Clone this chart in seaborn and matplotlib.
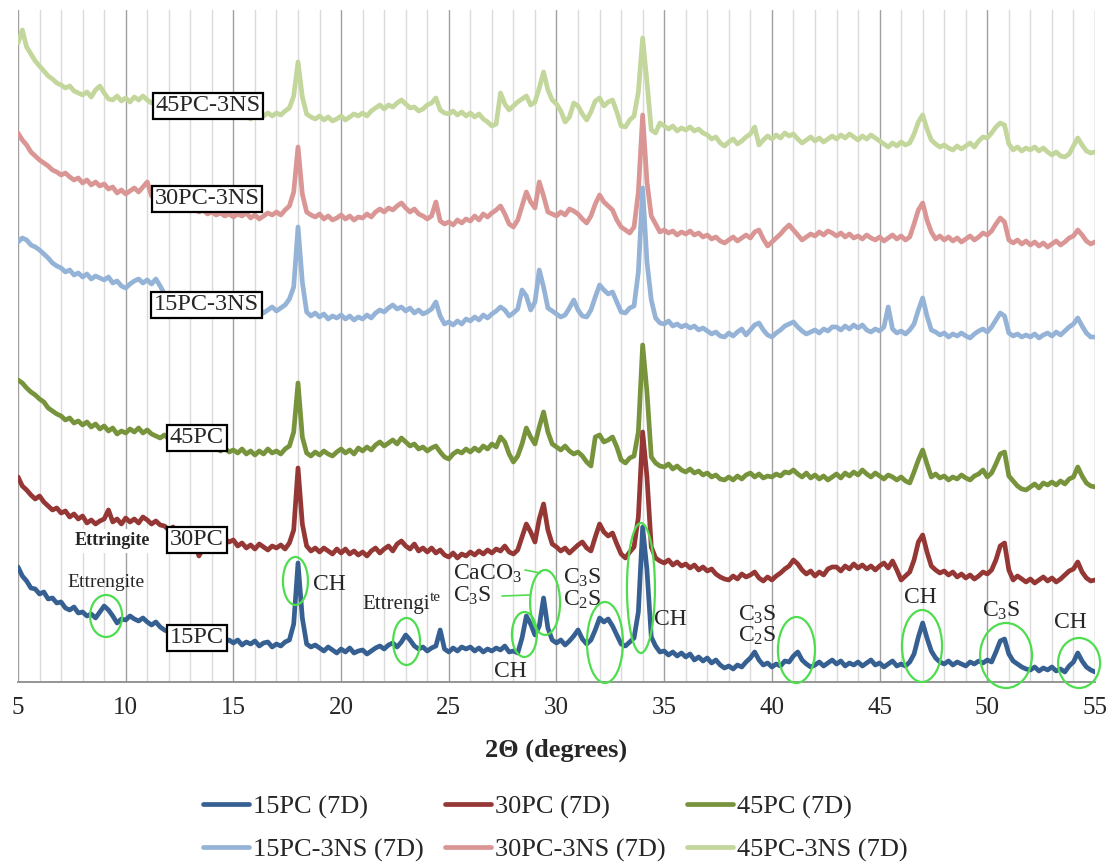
import numpy as np
import pandas as pd
import matplotlib
matplotlib.use("Agg")
import matplotlib.pyplot as plt
from matplotlib.patches import Ellipse
from matplotlib.ticker import MultipleLocator
import seaborn as sns

# 2-theta scan, 0.2 degree step from 5 to 55 degrees
two_theta = np.round(np.linspace(5, 55, 251), 1)

# Intensities (offset, arbitrary units), one row per degree (x.0, x.2, x.4, x.6, x.8)
pc15 = [
    115, 106, 101, 94, 93,   88, 90, 83, 84, 79,   80, 74, 72, 75, 69,   70, 66, 68, 64, 70,
    76, 72, 66, 59, 63,   62, 66, 63, 61, 64,   60, 57, 60, 55, 52,   50, 48, 51, 46, 48,
    45, 47, 44, 46, 42,   44, 41, 43, 40, 42,   39, 42, 37, 40, 38,   41, 36, 39, 40, 35,
    38, 36, 40, 42, 58,   119, 64, 38, 35, 37,   34, 31, 35, 32, 29,   33, 30, 34, 29, 31,
    32, 28, 31, 34, 36,   33, 37, 39, 35, 40,   47, 42, 36, 33, 35,   31, 34, 36, 52, 33,
    30, 34, 31, 35, 33,   35, 31, 34, 30, 33,   31, 34, 32, 36, 30,   31, 29, 44, 66, 58,
    47, 56, 84, 54, 42,   39, 42, 37, 41, 46,   52, 43, 38, 42, 52,   64, 60, 63, 56, 47,
    38, 36, 40, 44, 70,   155, 112, 45, 36, 30,   31, 27, 30, 26, 29,   25, 28, 22, 25, 21,
    24, 19, 22, 17, 14,   16, 13, 17, 15, 20,   24, 30, 22, 17, 19,   15, 18, 16, 21, 20,
    26, 30, 22, 18, 15,   17, 20, 16, 19, 22,   18, 21, 16, 19, 17,   20, 16, 19, 22, 17,
    19, 15, 18, 21, 16,   18, 16, 20, 28, 45,   59, 44, 31, 24, 20,   18, 21, 17, 20, 18,
    16, 20, 18, 21, 19,   22, 20, 30, 41, 43,   28, 21, 18, 15, 13,   12, 15, 11, 14, 12,
    15, 11, 13, 10, 16,   20, 29, 21, 15, 12,   10,
]
pc30 = [
    205, 196, 192, 187, 183,   186, 180, 176, 172, 174,   169, 171, 165, 168, 163,   166, 159, 162, 158, 161,
    163, 172, 160, 163, 158,   164, 160, 163, 159, 165,   162, 158, 161, 157, 156,   152, 155, 149, 151, 146,
    143, 139, 126, 134, 140,   137, 141, 138, 143, 140,   142, 136, 139, 134, 137,   133, 138, 135, 132, 136,
    134, 137, 133, 139, 152,   214, 158, 136, 131, 134,   130, 134, 131, 128, 133,   129, 133, 128, 131, 127,
    130, 126, 131, 134, 129,   133, 136, 131, 138, 141,   136, 133, 138, 131, 134,   130, 134, 129, 132, 127,
    125, 129, 124, 128, 126,   130, 127, 131, 128, 132,   129, 133, 131, 136, 130,   128, 132, 145, 158, 150,
    140, 163, 178, 152, 138,   135, 131, 134, 129, 133,   137, 140, 134, 131, 145,   158, 150, 146, 149, 138,
    128, 124, 130, 135, 165,   250, 205, 135, 124, 121,   119, 122, 117, 120, 116,   118, 114, 117, 112, 115,
    111, 113, 108, 105, 103,   102, 106, 103, 108, 105,   107, 110, 104, 101, 105,   102, 106, 109, 113, 116,
    122, 118, 112, 108, 111,   106, 110, 107, 113, 115,   115, 111, 116, 113, 118,   114, 117, 113, 116, 112,
    116, 119, 114, 121, 112,   102, 106, 110, 122, 140,   147, 130, 116, 112, 109,   111, 107, 110, 105, 108,
    104, 107, 103, 106, 110,   108, 112, 122, 136, 139,   112, 102, 106, 103, 100,   103, 99, 102, 105, 101,
    104, 100, 103, 107, 111,   113, 120, 110, 104, 101,   102,
]
pc45 = [
    302, 299, 294, 290, 287,   283, 280, 274, 271, 268,   266, 262, 264, 259, 261,   257, 260, 255, 258, 253,
    256, 251, 254, 248, 251,   249, 253, 250, 254, 249,   252, 248, 246, 244, 247,   243, 245, 240, 242, 238,
    240, 236, 238, 234, 236,   233, 236, 231, 234, 230,   232, 229, 233, 228, 231,   227, 231, 228, 233, 229,
    231, 228, 233, 236, 250,   299, 245, 229, 226, 230,   227, 231, 228, 226, 230,   233, 229, 232, 228, 234,
    231, 235, 232, 237, 240,   236, 239, 242, 238, 244,   240, 236, 238, 233, 235,   231, 234, 236, 230, 225,
    223, 228, 231, 229, 233,   230, 234, 231, 236, 233,   238, 235, 245, 240, 228,   220, 226, 238, 254, 245,
    238, 255, 270, 250, 238,   235, 232, 236, 231, 228,   230, 226, 220, 216, 245,   247, 240, 242, 245, 235,
    222, 219, 224, 226, 250,   337, 290, 225, 219, 216,   215, 218, 213, 216, 212,   210, 213, 209, 211, 207,
    209, 205, 207, 203, 202,   205, 202, 206, 203, 207,   209, 205, 208, 204, 206,   205, 208, 206, 210, 209,
    212, 208, 205, 209, 204,   207, 203, 206, 202, 205,   208, 204, 209, 206, 210,   207, 212, 208, 205, 209,
    206, 203, 207, 205, 202,   205, 201, 199, 210, 222,   232, 218, 205, 208, 204,   206, 202, 205, 203, 207,
    204, 202, 206, 208, 212,   205, 209, 218, 228, 230,   206, 201, 196, 193, 192,   195, 198, 194, 199, 197,
    200, 197, 201, 198, 203,   205, 215, 206, 199, 196,   195,
]
pc15_ns3 = [
    440, 444, 442, 437, 435,   432, 428, 424, 419, 416,   414, 410, 412, 407, 409,   405, 408, 403, 406, 404,
    402, 405, 399, 401, 396,   394, 398, 401, 403, 399,   402, 398, 403, 396, 388,   385, 387, 383, 384, 380,
    381, 378, 380, 376, 378,   375, 377, 374, 376, 373,   375, 372, 374, 371, 373,   370, 373, 369, 372, 375,
    371, 374, 377, 383, 395,   455, 400, 370, 366, 369,   365, 368, 363, 366, 364,   367, 363, 366, 362, 365,
    363, 367, 364, 369, 372,   370, 374, 377, 373, 375,   371, 374, 369, 372, 368,   370, 373, 380, 366, 358,
    360, 357, 361, 358, 363,   361, 365, 362, 367, 364,   368, 371, 375, 372, 366,   369, 373, 392, 386, 372,
    380, 412, 395, 374, 371,   368, 365, 367, 374, 382,   372, 366, 365, 372, 385,   397, 392, 388, 390, 380,
    370, 369, 374, 376, 410,   494, 420, 382, 364, 359,   358, 361, 356, 358, 355,   357, 354, 356, 352, 354,
    351, 348, 350, 346, 345,   349, 346, 350, 353, 347,   352, 357, 359, 352, 347,   345, 349, 352, 356, 358,
    360, 355, 351, 348, 350,   352, 349, 353, 351, 355,   355, 352, 356, 353, 357,   354, 357, 352, 350, 353,
    351, 355, 375, 353, 349,   351, 348, 352, 358, 372,   384, 366, 352, 350, 347,   349, 345, 348, 346, 349,
    346, 344, 348, 351, 353,   350, 355, 362, 369, 366,   349, 346, 348, 345, 347,   345, 348, 344, 347, 349,
    346, 350, 347, 351, 355,   358, 364, 356, 349, 345,   345,
]
pc30_ns3 = [
    549, 542, 537, 530, 526,   522, 519, 516, 512, 510,   507, 509, 505, 502, 504,   499, 502, 497, 500, 496,
    498, 493, 495, 489, 492,   488, 491, 494, 490, 495,   500, 486, 483, 480, 478,   477, 475, 476, 473, 474,
    471, 473, 470, 472, 468,   470, 467, 469, 466, 468,   465, 468, 466, 469, 464,   467, 463, 466, 469, 467,
    470, 467, 472, 476, 490,   535, 488, 470, 467, 465,   468, 463, 466, 462, 464,   467, 463, 466, 462, 465,
    464, 468, 465, 470, 473,   470, 474, 472, 476, 479,   474, 470, 473, 468, 466,   463, 466, 480, 461, 458,
    460, 457, 462, 459, 463,   461, 466, 462, 468, 465,   469, 472, 476, 468, 458,   455, 462, 476, 490, 480,
    474, 500, 486, 470, 468,   466, 470, 467, 473, 471,   468, 463, 459, 466, 478,   487, 480, 476, 472, 462,
    455, 452, 449, 455, 490,   567, 500, 466, 458, 450,   452, 449, 451, 447, 450,   448, 451, 447, 449, 445,
    447, 443, 445, 441, 439,   442, 445, 441, 444, 447,   444, 450, 452, 443, 436,   440, 444, 448, 453, 457,
    452, 447, 442, 445, 448,   446, 450, 447, 451, 449,   446, 449, 445, 448, 444,   446, 443, 447, 444, 442,
    445, 441, 444, 447, 443,   446, 442, 445, 458, 472,   479, 462, 450, 443, 446,   442, 445, 441, 444, 440,
    443, 446, 442, 445, 449,   447, 451, 458, 464, 460,   442, 439, 442, 438, 441,   437, 440, 436, 439, 435,
    438, 441, 437, 440, 444,   446, 452, 447, 441, 438,   440,
]
pc45_ns3 = [
    639, 652, 635, 628, 621,   616, 611, 606, 603, 599,   597, 594, 596, 591, 589,   587, 590, 585, 592, 596,
    589, 583, 582, 586, 581,   584, 580, 585, 582, 586,   582, 579, 583, 578, 575,   576, 573, 575, 571, 574,
    572, 569, 571, 567, 570,   568, 571, 567, 570, 566,   569, 565, 568, 566, 563,   567, 564, 566, 569, 566,
    569, 567, 571, 574, 586,   620, 585, 568, 565, 563,   566, 562, 565, 561, 563,   566, 562, 565, 568, 566,
    569, 566, 571, 574, 577,   573, 577, 575, 579, 582,   578, 574, 575, 571, 573,   577, 579, 584, 572, 569,
    568, 571, 567, 570, 566,   569, 565, 568, 563, 560,   556, 558, 589, 578, 572,   576, 580, 583, 586, 577,
    580, 594, 610, 592, 582,   578, 571, 560, 565, 579,   576, 568, 562, 570, 581,   584, 576, 580, 582, 570,
    556, 555, 562, 566, 590,   644, 600, 552, 549, 559,   556, 553, 556, 551, 554,   552, 555, 551, 553, 549,
    547, 543, 545, 539, 536,   540, 543, 538, 541, 545,   548, 555, 537, 542, 546,   543, 547, 544, 549, 546,
    548, 543, 539, 542, 545,   541, 544, 540, 543, 546,   543, 547, 544, 548, 545,   542, 546, 543, 547, 544,
    541, 538, 535, 539, 536,   540, 537, 539, 548, 560,   567, 553, 542, 538, 535,   537, 534, 532, 536, 533,
    536, 539, 535, 541, 545,   544, 549, 555, 559, 557,   538, 532, 535, 531, 534,   532, 535, 531, 534, 530,
    527, 530, 526, 525, 528,   536, 544, 537, 531, 529,   530,
]

series_names = ["15PC (7D)", "30PC (7D)", "45PC (7D)",
                "15PC-3NS (7D)", "30PC-3NS (7D)", "45PC-3NS (7D)"]
series_values = [pc15, pc30, pc45, pc15_ns3, pc30_ns3, pc45_ns3]
series_colors = ["#376092", "#953735", "#77933C", "#95B3D7", "#D99694", "#C3D69B"]

# Curve tags and phase labels
curve_tags = ["45PC-3NS", "30PC-3NS", "15PC-3NS", "45PC", "30PC", "15PC"]
curve_tag_pos = [(13.82, 576), (13.77, 483), (13.77, 377), (13.31, 244), (13.31, 142), (13.31, 44)]

frames = []
for name, vals in zip(series_names, series_values):
    frames.append(pd.DataFrame({"two_theta": two_theta, "intensity": vals, "sample": name}))
df = pd.concat(frames, ignore_index=True)

sns.set_style("white")
plt.rcParams["font.family"] = ["Liberation Serif", "DejaVu Serif"]
plt.rcParams["mathtext.default"] = "regular"

fig = plt.figure(figsize=(11.11, 8.68), dpi=100)
ax = fig.add_axes([0.0162, 0.2143, 0.9694, 0.7742])

sns.lineplot(data=df, x="two_theta", y="intensity", hue="sample",
             hue_order=series_names[::-1],
             palette=dict(zip(series_names, series_colors)),
             linewidth=3.4, estimator=None, sort=False, ax=ax, zorder=3)

ax.set_xlim(5, 55)
ax.set_ylim(0, 672)
ax.xaxis.set_major_locator(MultipleLocator(5))
ax.xaxis.set_minor_locator(MultipleLocator(1))
ax.set_yticks([])
ax.set_ylabel("")
ax.set_axisbelow(True)
ax.grid(which="minor", axis="x", color="#DADADA", linewidth=1.0)
ax.grid(which="major", axis="x", color="#A0A0A0", linewidth=1.0)
for side in ("left", "top", "right"):
    ax.spines[side].set_visible(False)
ax.spines["bottom"].set_color("#8C8C8C")
ax.spines["bottom"].set_linewidth(1.3)
ax.tick_params(axis="x", which="major", direction="out", length=5, width=1,
               color="#8C8C8C", labelsize=18, pad=6)
ax.tick_params(axis="x", which="minor", length=0)
ax.set_xlabel("2Θ (degrees)", fontsize=19, fontweight="bold", labelpad=14)

# Curve tags in boxes
for tag, (tx, ty) in zip(curve_tags, curve_tag_pos):
    ax.text(tx, ty, tag, fontsize=17.5, ha="center", va="center", zorder=5,
            bbox=dict(boxstyle="square,pad=0.12", fc="white", ec="black", lw=1.6))

ax.text(9.36, 141, "Ettringite", fontsize=13, fontweight="bold", ha="center", va="center",
        zorder=5, bbox=dict(boxstyle="square,pad=0.2", fc="white", ec="none"))

green = "#4FDD4F"
phase_labels = [
    (9.09, 99, "Ettrengite", 14, "center"),
    (19.44, 97, "CH", 17, "center"),
    (20.97, 77, "Ettrengi", 15, "left"),
    (24.13, 84, "te", 11, "left"),
    (25.2, 108, "CaCO$_3$", 17, "left"),
    (25.2, 86, "C$_3$S", 17, "left"),
    (27.84, 10, "CH", 17, "center"),
    (30.3, 104, "C$_3$S", 17, "left"),
    (30.3, 82, "C$_2$S", 17, "left"),
    (35.27, 62, "CH", 17, "center"),
    (38.43, 67, "C$_3$S", 17, "left"),
    (38.43, 46, "C$_2$S", 17, "left"),
    (46.88, 84, "CH", 17, "center"),
    (50.63, 71, "C$_3$S", 17, "center"),
    (53.84, 59, "CH", 17, "center"),
]
for lx, ly, s, fs, ha in phase_labels:
    ax.text(lx, ly, s, fontsize=fs, ha=ha, va="center", zorder=6)

# Leader lines from the CaCO3 / C3S labels to the 29.4 degree peak
ax.plot([28.54, 29.24], [112, 109], color=green, lw=1.2, zorder=6)
ax.plot([27.47, 28.77], [86, 87], color=green, lw=1.2, zorder=6)

# Circled peaks: centre (2theta, intensity), width, height
peak_marks = [
    (9.09, 66, 1.49, 42), (17.88, 101, 1.16, 48), (23.04, 40.5, 1.25, 47),
    (28.51, 47.5, 1.16, 45), (29.47, 79.5, 1.39, 65), (32.25, 39.5, 1.67, 81),
    (33.92, 94, 1.30, 130), (41.14, 32, 1.72, 66), (46.97, 36, 1.86, 72),
    (50.87, 26.5, 2.41, 65), (54.26, 19, 1.95, 50),
]
for cx, cy, w, h in peak_marks:
    ax.add_patch(Ellipse((cx, cy), w, h, fill=False, ec=green, lw=1.6,
                         zorder=7, clip_on=False))

handles, labels = ax.get_legend_handles_labels()
lookup = dict(zip(labels, handles))
order = [series_names[i] for i in (0, 3, 1, 4, 2, 5)]
leg = ax.legend([lookup[n] for n in order], order, ncol=3, loc="upper center",
                bbox_to_anchor=(0.5, 0.084), bbox_transform=fig.transFigure,
                frameon=False, fontsize=19, handlelength=1.75, handletextpad=0.15,
                columnspacing=0.8, labelspacing=0.72, borderaxespad=0, borderpad=0)
for line in leg.get_lines():
    line.set_linewidth(3.4)

fig.savefig("out.png", dpi=100)
